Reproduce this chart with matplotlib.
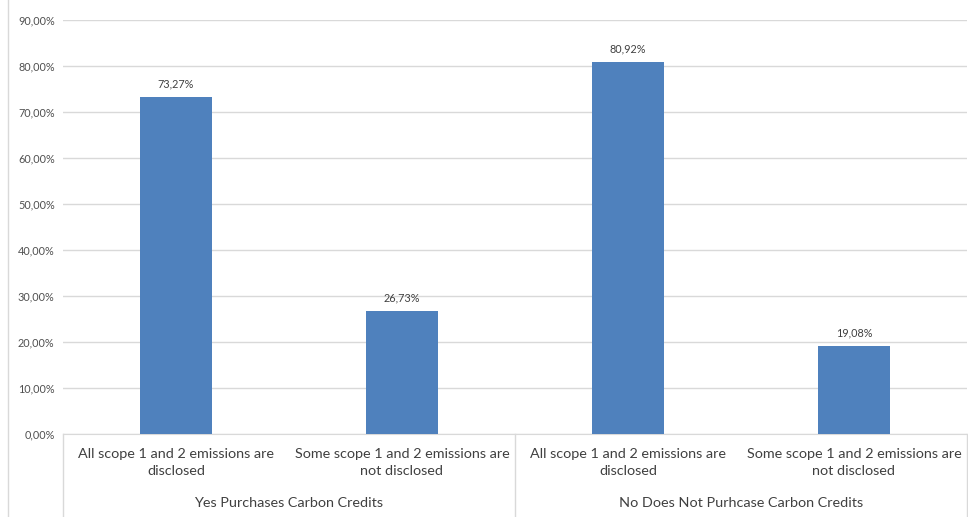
import matplotlib.pyplot as plt
from matplotlib.ticker import FuncFormatter

plt.rcParams['font.family'] = ['Lato', 'DejaVu Sans']

## DATA
groups = ['Yes Purchases Carbon Credits', 'No Does Not Purhcase Carbon Credits']
categories = ['All scope 1 and 2 emissions are\ndisclosed',
              'Some scope 1 and 2 emissions are\nnot disclosed',
              'All scope 1 and 2 emissions are\ndisclosed',
              'Some scope 1 and 2 emissions are\nnot disclosed']
values = [73.27, 26.73, 80.92, 19.08]

## PLOT
fig = plt.figure(figsize=(9.68, 5.17), dpi=100)
ax = fig.add_axes([63/968, (517-434)/517, (967-63)/968, (434-20)/517])

xs = list(range(len(values)))
bars = ax.bar(xs, values, width=0.315, color='#4F81BD', zorder=3)
for x, v in zip(xs, values):
    ax.text(x, v + 1.6, f'{v:.2f}%'.replace('.', ','), ha='center', va='bottom',
            fontsize=7.8, color='#404040')

ax.set_xlim(-0.5, len(values) - 0.5)
ax.set_ylim(0, 90)
ax.set_yticks(range(0, 91, 10))
ax.yaxis.set_major_formatter(FuncFormatter(lambda v, p: f'{v:.2f}%'.replace('.', ',')))
ax.grid(axis='y', color='#D9D9D9', linewidth=1, zorder=0)
ax.tick_params(axis='y', length=0, pad=6, labelsize=7.8, labelcolor='#505050')
ax.set_xticks(xs)
ax.set_xticklabels(categories, fontsize=10.4, color='#404040', linespacing=1.55)
ax.tick_params(axis='x', length=0, pad=10)

for s in ['top', 'right', 'left']:
    ax.spines[s].set_visible(False)
ax.spines['bottom'].set_color('#D9D9D9')

# table-like lines under the axis
lc = '#D9D9D9'
depth = -(517 - 434) / 414
for xf in [0, 0.5, 1]:
    ax.plot([xf, xf], [0, depth], transform=ax.transAxes, color=lc, lw=1, clip_on=False)
fig.add_artist(plt.Line2D([8/968, 8/968], [0, 1], color=lc, lw=1))

ax.text(0.25, -(503 - 434) / 414, groups[0], transform=ax.transAxes, ha='center', va='center',
        fontsize=10.4, color='#404040')
ax.text(0.75, -(503 - 434) / 414, groups[1], transform=ax.transAxes, ha='center', va='center',
        fontsize=10.4, color='#404040')

fig.savefig('out.png', dpi=100)
